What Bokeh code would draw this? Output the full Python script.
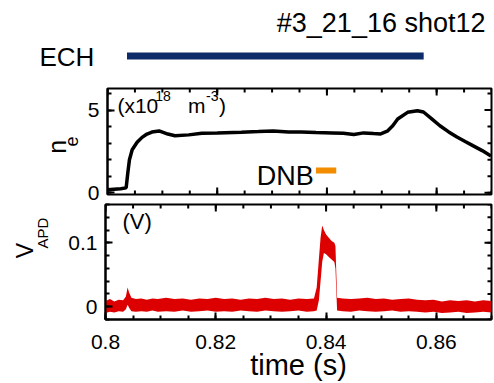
import math
from bokeh.plotting import figure
from bokeh.layouts import column, row
from bokeh.models import Range1d, LinearAxis, FixedTicker
from bokeh.core.properties import value
from bokeh.embed import file_html
from bokeh.resources import INLINE

FONT = "Liberation Sans"

# ---------------- data ----------------
shot_title = "#3_21_16 shot12"
ech_label = "ECH"
ech_window = [0.8039, 0.8577]
dnb_label = "DNB"
dnb_window = [0.8380, 0.8417]

time_ne = [0.8000, 0.8012, 0.8024, 0.8034, 0.8037, 0.8040, 0.8045, 0.8054, 0.8063,
           0.8072, 0.8081, 0.8094, 0.8110, 0.8123, 0.8148, 0.8172, 0.8200, 0.8244,
           0.8275, 0.8302, 0.8330, 0.8353, 0.8380, 0.8410, 0.8430, 0.8449, 0.8467,
           0.8485, 0.8498, 0.8510, 0.8520, 0.8529, 0.8547, 0.8565, 0.8576, 0.8590,
           0.8606, 0.8622, 0.8637, 0.8652, 0.8666, 0.8683, 0.8699]
ne_values = [0.18, 0.22, 0.25, 0.30, 1.20, 2.00, 2.60, 3.05, 3.35,
             3.55, 3.67, 3.74, 3.55, 3.45, 3.50, 3.60, 3.62, 3.66,
             3.70, 3.74, 3.68, 3.67, 3.64, 3.62, 3.60, 3.52, 3.62,
             3.58, 3.56, 3.72, 4.05, 4.46, 4.86, 4.96, 4.88, 4.50,
             4.05, 3.68, 3.37, 3.10, 2.85, 2.55, 2.23]

time_apd = [0.8000, 0.8008, 0.8016, 0.8024, 0.8032, 0.8037, 0.8040, 0.8043, 0.8047, 0.8055,
            0.8065, 0.8075, 0.8085, 0.8095, 0.8110, 0.8125, 0.8140, 0.8155, 0.8170, 0.8185,
            0.8200, 0.8215, 0.8230, 0.8245, 0.8260, 0.8275, 0.8290, 0.8305, 0.8320, 0.8335,
            0.8350, 0.8365, 0.8378, 0.8383, 0.8387, 0.8390, 0.8393, 0.8396, 0.8400, 0.8405,
            0.8410, 0.8415, 0.8417, 0.8420, 0.8430, 0.8445, 0.8460, 0.8475, 0.8490, 0.8505,
            0.8520, 0.8535, 0.8550, 0.8565, 0.8580, 0.8595, 0.8610, 0.8625, 0.8640, 0.8655,
            0.8670, 0.8685, 0.8700]
apd_upper = [0.009, 0.012, 0.008, 0.011, 0.010, 0.016, 0.030, 0.022, 0.014, 0.012,
             0.013, 0.011, 0.013, 0.012, 0.014, 0.012, 0.013, 0.011, 0.013, 0.012,
             0.014, 0.012, 0.013, 0.011, 0.013, 0.012, 0.014, 0.012, 0.013, 0.011,
             0.013, 0.012, 0.013, 0.030, 0.075, 0.108, 0.127, 0.120, 0.113, 0.108,
             0.103, 0.100, 0.095, 0.014, 0.013, 0.012, 0.013, 0.014, 0.012, 0.013,
             0.011, 0.012, 0.013, 0.011, 0.010, 0.011, 0.008, 0.010, 0.009, 0.010,
             0.008, 0.010, 0.009]
apd_lower = [-0.010, -0.008, -0.009, -0.007, -0.008, -0.004, 0.003, -0.002, -0.007, -0.008,
             -0.007, -0.008, -0.006, -0.008, -0.007, -0.008, -0.006, -0.008, -0.007, -0.006,
             -0.008, -0.007, -0.008, -0.006, -0.007, -0.008, -0.006, -0.007, -0.008, -0.007,
             -0.006, -0.008, -0.007, -0.006, 0.010, 0.040, 0.070, 0.084, 0.082, 0.078,
             0.074, 0.070, 0.060, -0.006, -0.007, -0.008, -0.006, -0.007, -0.008, -0.007,
             -0.006, -0.008, -0.007, -0.008, -0.009, -0.008, -0.010, -0.009, -0.008, -0.010,
             -0.009, -0.008, -0.009]

x_major = [0.80, 0.82, 0.84, 0.86]
x_major_labels = ["0.8", "0.82", "0.84", "0.86"]
ne_major = [0, 5]
ne_major_labels = ["0", "5"]
apd_major = [0, 0.1]
apd_major_labels = ["0", "0.1"]
x_label = "time (s)"

# ---------------- layout (page pixels, origin top-left) ----------------
W, H = 494, 383
X0, X1 = 0.80, 0.87
FRAME_L, FRAME_R = 105, 491
SX = (FRAME_R - FRAME_L) / (X1 - X0)

TOP_H = 86
P1_TOP, P1_BOT = 88, 194
P2_TOP, P2_BOT = 204, 321
NE0, NE1 = -0.1, 6.3
V0, V1 = -0.02, 0.16
MID = 0.35  # offset from "middle" anchor to the alphabetic baseline, in em

L1_W, L2_W = 84, 58
ROW1_TOP, ROW1_BOT = TOP_H, 203
ROW2_TOP, ROW2_BOT = 203, H


def t_at(px):
    return X0 + (px - FRAME_L) / SX


def ne_at(py):
    return NE0 + (P1_BOT - py) * (NE1 - NE0) / (P1_BOT - P1_TOP)


def v_at(py):
    return V0 + (P2_BOT - py) * (V1 - V0) / (P2_BOT - P2_TOP)


x_minor = [round(0.80 + 0.005 * i, 3) for i in range(15)]
ne_minor = [float(i) for i in range(0, 7)]
apd_minor = [round(-0.02 + 0.02 * i, 2) for i in range(10)]

xr = Range1d(X0, X1)


def bare(width, height, x_range, y_range):
    p = figure(width=width, height=height, x_range=x_range, y_range=y_range,
               output_backend="svg", toolbar_location=None,
               x_axis_location=None, y_axis_location=None,
               min_border_left=0, min_border_right=0,
               min_border_top=0, min_border_bottom=0,
               outline_line_color=None, border_fill_color="white",
               background_fill_color="white")
    p.grid.visible = False
    return p


def txt(p, x, y, text, size, align="left", angle=0.0):
    p.text(x=[x], y=[y], text=[text], text_font=value(FONT),
           text_font_size=value(f"{size}px"), text_color="black",
           text_align=align, text_baseline="middle", angle=angle)


def style_axis(ax, ticks, minors, labels, size):
    ax.ticker = FixedTicker(ticks=ticks, minor_ticks=minors)
    ax.axis_line_color = "black"
    ax.axis_line_width = 2
    ax.major_tick_line_color = "black"
    ax.major_tick_line_width = 2
    ax.minor_tick_line_color = "black"
    ax.minor_tick_line_width = 2
    ax.major_tick_in = 7
    ax.major_tick_out = 0
    ax.minor_tick_in = 4
    ax.minor_tick_out = 0
    ax.major_label_text_font = FONT
    ax.major_label_text_font_size = size
    ax.major_label_text_color = "black"
    ax.major_label_overrides = {t: l for t, l in zip(ticks, labels)}


def inward_ticks(p, xs, ys, angle, length):
    p.ray(x=xs, y=ys, length=length, length_units="screen", angle=angle,
          line_color="black", line_width=2)


def panel(width, height, yr, left, top, bottom):
    p = figure(width=width, height=height, x_range=xr, y_range=yr,
               output_backend="svg", toolbar_location=None,
               x_axis_location=None, y_axis_location=None,
               min_border_left=left, min_border_right=W - FRAME_R,
               min_border_top=top, min_border_bottom=bottom,
               background_fill_color="white", border_fill_color="white",
               outline_line_color="black", outline_line_width=2)
    p.grid.visible = False
    return p


# ---- top strip: title + ECH ----
p0 = bare(W, TOP_H, Range1d(t_at(0), t_at(W)), Range1d(TOP_H, 0))
p0.segment(x0=[ech_window[0]], x1=[ech_window[1]], y0=[55.5], y1=[55.5],
           line_color="#0c2b68", line_width=7)
txt(p0, t_at(485), 32 - MID * 27, shot_title, 27, align="right")
txt(p0, t_at(39), 65.7 - MID * 26, ech_label, 26)

# ---- row 1: density ----
l1 = bare(L1_W, ROW1_BOT - ROW1_TOP, Range1d(0, L1_W), Range1d(ROW1_BOT, ROW1_TOP))
txt(l1, 65 - MID * 25, 158, "n", 25, angle=math.pi / 2)
txt(l1, 77 - MID * 18, 150, "e", 18, angle=math.pi / 2)

p1 = panel(W - L1_W, ROW1_BOT - ROW1_TOP, Range1d(NE0, NE1),
           FRAME_L - L1_W, P1_TOP - ROW1_TOP, ROW1_BOT - P1_BOT)
ax = LinearAxis()
style_axis(ax, ne_major, ne_minor, ne_major_labels, "21px")
ax.major_label_standoff = 8
p1.add_layout(ax, "left")
inward_ticks(p1, x_major, [NE1] * len(x_major), -math.pi / 2, 7)
inward_ticks(p1, x_minor, [NE1] * len(x_minor), -math.pi / 2, 4)
inward_ticks(p1, x_major, [NE0] * len(x_major), math.pi / 2, 7)
inward_ticks(p1, x_minor, [NE0] * len(x_minor), math.pi / 2, 4)
inward_ticks(p1, [X1] * len(ne_major), ne_major, math.pi, 7)
inward_ticks(p1, [X1] * len(ne_minor), ne_minor, math.pi, 4)
p1.line(time_ne, ne_values, line_color="black", line_width=3.5)
p1.segment(x0=[dnb_window[0]], x1=[dnb_window[1]], y0=[ne_at(170)], y1=[ne_at(170)],
           line_color="#f28c00", line_width=6)
txt(p1, t_at(255), ne_at(185 - MID * 27), dnb_label, 27)
txt(p1, t_at(115), ne_at(112.5 - MID * 21), "(x10", 21)
txt(p1, t_at(153), ne_at(100 - MID * 14), "18", 14)
txt(p1, t_at(186), ne_at(112.5 - MID * 21), "m", 21)
txt(p1, t_at(204), ne_at(100 - MID * 14), "-3", 14)
txt(p1, t_at(217), ne_at(112.5 - MID * 21), ")", 21)

# ---- row 2: APD signal ----
l2 = bare(L2_W, ROW2_BOT - ROW2_TOP, Range1d(0, L2_W), Range1d(ROW2_BOT, ROW2_TOP))
txt(l2, 33 - MID * 23, 287, "V", 23, angle=math.pi / 2)
txt(l2, 47 - MID * 15, 272, "APD", 15, angle=math.pi / 2)

p2 = panel(W - L2_W, ROW2_BOT - ROW2_TOP, Range1d(V0, V1),
           FRAME_L - L2_W, P2_TOP - ROW2_TOP, ROW2_BOT - P2_BOT)
ay = LinearAxis()
style_axis(ay, apd_major, apd_minor, apd_major_labels, "21px")
ay.major_label_standoff = 8
p2.add_layout(ay, "left")
axx = LinearAxis()
style_axis(axx, x_major, x_minor, x_major_labels, "21px")
axx.major_label_standoff = 15
axx.axis_label = x_label
axx.axis_label_text_font = FONT
axx.axis_label_text_font_size = "29px"
axx.axis_label_text_font_style = "normal"
axx.axis_label_text_color = "black"
axx.axis_label_standoff = -3
p2.add_layout(axx, "below")
inward_ticks(p2, x_major, [V1] * len(x_major), -math.pi / 2, 7)
inward_ticks(p2, x_minor, [V1] * len(x_minor), -math.pi / 2, 4)
inward_ticks(p2, [X1] * len(apd_major), apd_major, math.pi, 7)
inward_ticks(p2, [X1] * len(apd_minor), apd_minor, math.pi, 4)
p2.varea(x=time_apd, y1=apd_lower, y2=apd_upper, fill_color="#dd0000")
txt(p2, t_at(122), v_at(228.5 - MID * 22), "(V)", 22)

layout = column(p0, row(l1, p1, spacing=0), row(l2, p2, spacing=0), spacing=0)
open("out.html", "w").write(file_html(layout, INLINE, "plot"))
